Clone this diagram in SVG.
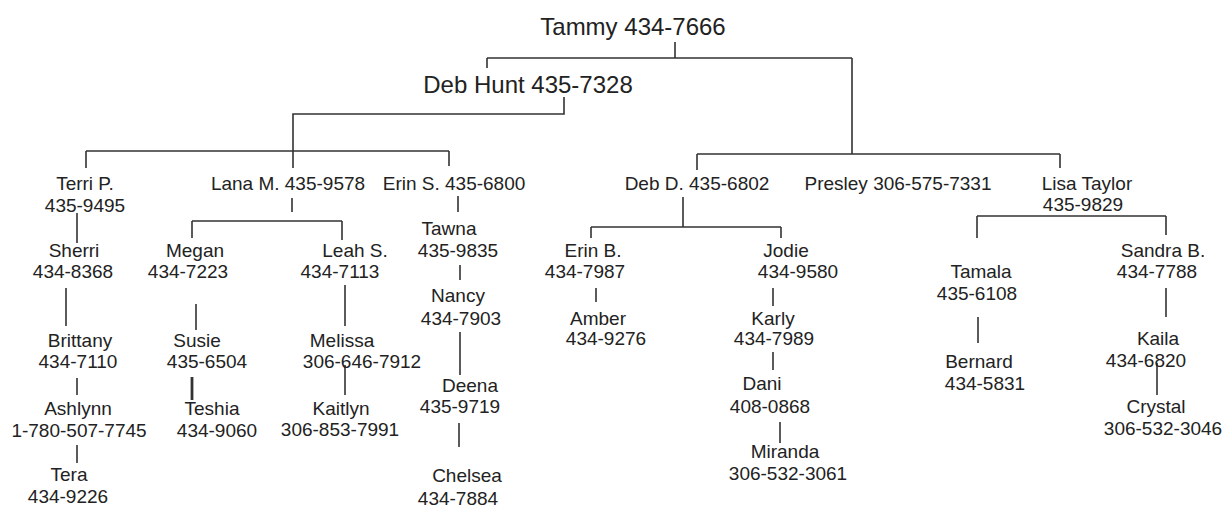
<svg xmlns="http://www.w3.org/2000/svg" width="1227" height="508" viewBox="0 0 1227 508">
<style>
text{font-family:"Liberation Sans",Arial,sans-serif;fill:#222;text-anchor:middle;font-size:19px}
.big{font-size:24px}
.c path{fill:none;stroke:#333;stroke-width:1.6}
</style>
<rect width="1227" height="508" fill="#fff"/>
<g class="c" id="connectors">
<path d="M675 42V58M487 58H852M487 58V68M852 58V154"/>
<path d="M564 97V114H293V168M86 151H449M86 151V168M449 151V166"/>
<path d="M697 154H1060M697 154V170M1060 154V168"/>
<path d="M77 213V243M66 288V326M77 378V395M77 445V463"/>
<path d="M292 198V212M192 221H342M192 221V238M342 221V240M196 304V330"/>
<path d="M192 377V400" style="stroke-width:2.8"/>
<path d="M345 285V326M345 365V395"/>
<path d="M458 196V212M460 265V280M460 332V375M459 423V447"/>
<path d="M683 197V227M591 227H781M591 227V238M781 227V238M596 288V302M773 288V306M773 352V370M780 422V443"/>
<path d="M977 216H1166M977 216V238M1166 216V235M1166 288V317M978 317V343M1157 363V395"/>
</g>
<g id="tammy"><text class="big" x="633" y="35">Tammy 434-7666</text></g>
<g id="debhunt"><text class="big" x="528" y="93">Deb Hunt 435-7328</text></g>
<g id="terri"><text x="85" y="190">Terri P.</text><text x="85" y="212">435-9495</text></g>
<g id="sherri"><text x="74" y="257">Sherri</text><text x="73" y="278">434-8368</text></g>
<g id="brittany"><text x="80" y="347">Brittany</text><text x="78" y="368">434-7110</text></g>
<g id="ashlynn"><text x="78" y="415">Ashlynn</text><text x="79" y="437">1-780-507-7745</text></g>
<g id="tera"><text x="69" y="481">Tera</text><text x="68" y="503">434-9226</text></g>
<g id="lana"><text x="288" y="190">Lana M. 435-9578</text></g>
<g id="megan"><text x="195" y="257">Megan</text><text x="188" y="278">434-7223</text></g>
<g id="susie"><text x="197" y="347">Susie</text><text x="207" y="368">435-6504</text></g>
<g id="teshia"><text x="212" y="415">Teshia</text><text x="217" y="437">434-9060</text></g>
<g id="leah"><text x="355" y="257">Leah S.</text><text x="340" y="278">434-7113</text></g>
<g id="melissa"><text x="342" y="347">Melissa</text><text x="362" y="368">306-646-7912</text></g>
<g id="kaitlyn"><text x="341" y="415">Kaitlyn</text><text x="340" y="436">306-853-7991</text></g>
<g id="erins"><text x="454" y="190">Erin S. 435-6800</text></g>
<g id="tawna"><text x="449" y="235">Tawna</text><text x="458" y="257">435-9835</text></g>
<g id="nancy"><text x="458" y="302">Nancy</text><text x="461" y="325">434-7903</text></g>
<g id="deena"><text x="470" y="392">Deena</text><text x="460" y="413">435-9719</text></g>
<g id="chelsea"><text x="467" y="482">Chelsea</text><text x="458" y="505">434-7884</text></g>
<g id="debd"><text x="697" y="190">Deb D. 435-6802</text></g>
<g id="presley"><text x="898" y="190">Presley 306-575-7331</text></g>
<g id="lisa"><text x="1087" y="190">Lisa Taylor</text><text x="1083" y="211">435-9829</text></g>
<g id="erinb"><text x="593" y="257">Erin B.</text><text x="585" y="278">434-7987</text></g>
<g id="amber"><text x="598" y="325">Amber</text><text x="606" y="345">434-9276</text></g>
<g id="jodie"><text x="786" y="257">Jodie</text><text x="798" y="278">434-9580</text></g>
<g id="karly"><text x="773" y="325">Karly</text><text x="774" y="345">434-7989</text></g>
<g id="dani"><text x="762" y="390">Dani</text><text x="770" y="413">408-0868</text></g>
<g id="miranda"><text x="785" y="458">Miranda</text><text x="788" y="480">306-532-3061</text></g>
<g id="tamala"><text x="981" y="278">Tamala</text><text x="977" y="300">435-6108</text></g>
<g id="bernard"><text x="979" y="368">Bernard</text><text x="985" y="390">434-5831</text></g>
<g id="sandra"><text x="1163" y="257">Sandra B.</text><text x="1157" y="278">434-7788</text></g>
<g id="kaila"><text x="1158" y="345">Kaila</text><text x="1146" y="367">434-6820</text></g>
<g id="crystal"><text x="1156" y="413">Crystal</text><text x="1163" y="435">306-532-3046</text></g>
</svg>
